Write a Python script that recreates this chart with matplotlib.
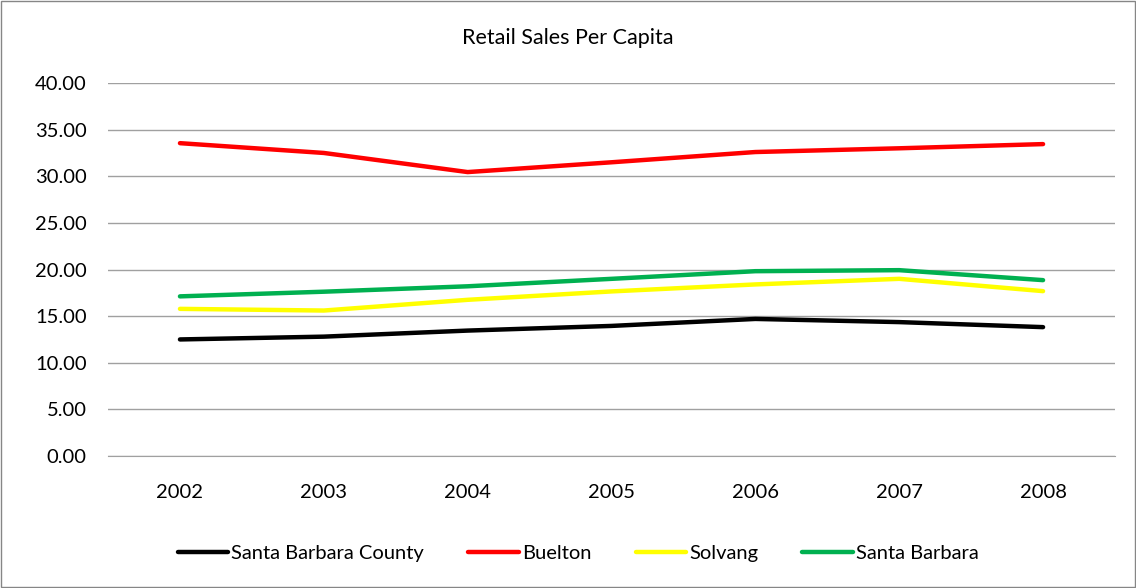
import matplotlib.pyplot as plt
from matplotlib.patches import Rectangle

# Data
years = ['2002', '2003', '2004', '2005', '2006', '2007', '2008']
sb_county = [12.50, 12.80, 13.45, 13.95, 14.70, 14.36, 13.82]
buelton = [33.55, 32.50, 30.45, 31.50, 32.60, 33.00, 33.45]
solvang = [15.78, 15.60, 16.75, 17.65, 18.40, 19.00, 17.68]
santa_barbara = [17.12, 17.62, 18.20, 19.00, 19.82, 19.93, 18.86]

plt.rcParams['font.family'] = ['Lato', 'DejaVu Sans']

fig = plt.figure(figsize=(11.36, 5.88), dpi=100)
ax = fig.add_axes([0.0951, 0.2245, 0.8864, 0.6343])

x = list(range(len(years)))
ax.plot(x, sb_county, color='black', lw=3.2, solid_capstyle='round', label='Santa Barbara County')
ax.plot(x, buelton, color='#ff0000', lw=3.2, solid_capstyle='round', label='Buelton')
ax.plot(x, solvang, color='#ffff00', lw=3.2, solid_capstyle='round', label='Solvang')
ax.plot(x, santa_barbara, color='#00b050', lw=3.2, solid_capstyle='round', label='Santa Barbara')

ax.set_xlim(-0.5, len(years) - 0.5)
ax.set_ylim(0, 40)
ax.set_yticks(range(0, 41, 5))
ax.set_yticklabels(['%.2f' % v for v in range(0, 41, 5)])
ax.set_xticks(x)
ax.set_xticklabels(years)
ax.tick_params(length=0, labelsize=14.5)
ax.tick_params(axis='y', pad=15.5)
ax.tick_params(axis='x', pad=20)

# Grid
ax.grid(axis='y', color='#a0a0a0', lw=1)
ax.set_axisbelow(True)
for s in ['top', 'right', 'left']:
    ax.spines[s].set_visible(False)
ax.spines['bottom'].set_color('#a0a0a0')

fig.text(0.5, 0.935, 'Retail Sales Per Capita', ha='center', va='center', fontsize=15.5)

fig.legend(loc='center', bbox_to_anchor=(0.509, 0.058), ncol=4, frameon=False,
           fontsize=14.5, handlelength=2.5, handletextpad=0.15, columnspacing=2.2)

# Chart border
fig.patches.append(Rectangle((0.001, 0.002), 0.998, 0.996, transform=fig.transFigure,
                             fill=False, edgecolor='#868686', lw=1))

fig.savefig('out.png', dpi=100)
